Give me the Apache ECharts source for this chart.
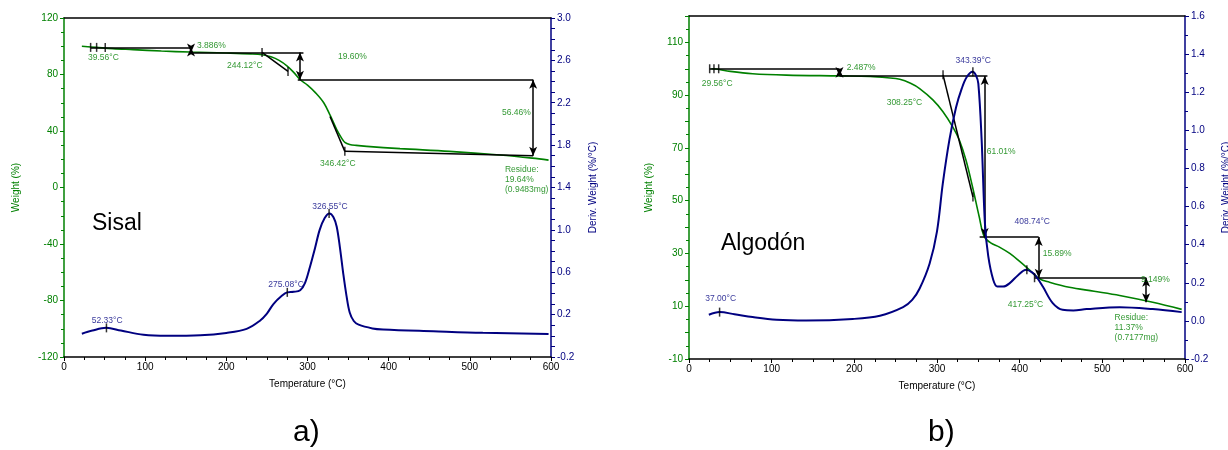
<!DOCTYPE html>
<html><head><meta charset="utf-8">
<script src="https://cdn.jsdelivr.net/npm/echarts@6/dist/echarts.min.js"></script>
<style>html,body{margin:0;padding:0;background:#fff}#c{width:1228px;height:450px}</style>
</head><body><div id="c"></div>
<script>
// ---------- Sisal (panel a) ----------
const sisalTgaTemp   = [22,40,60,85,120,155,200,230,244,255,265,275,283,291,300,310,320,328,336,342,346,352,360,373,414,475,537,577,597];
const sisalTgaWeight = [100,99.2,98.3,97.6,96.6,95.9,95.2,94.6,94,92.5,90,86,81.5,76.3,72.5,67,60,51,41,35,32,30.5,29.8,29.1,27.5,25.6,23,20.8,19.4];
const sisalDtgTemp   = [22,35,52,70,98,127,168,200,225,241,250,258,268,275,283,291,297,303,309,315,321,327,332,336,340,344,348,352,357,363,380,393,455,516,597];
const sisalDtgDeriv  = [0.02,0.05,0.075,0.05,0.01,0.0,0.005,0.027,0.065,0.14,0.21,0.3,0.375,0.41,0.415,0.43,0.5,0.65,0.82,1.0,1.11,1.155,1.12,1.03,0.83,0.59,0.38,0.22,0.14,0.105,0.07,0.06,0.043,0.028,0.018];
const sisalStepLines = [[[32.8,99.2],[156.5,99.2]],[[156.5,95.6],[295,95.6]],[[244,95.6],[276,82.2]],[[288,76.3],[578,76.3]],[[327.7,50.3],[346,25.6]],[[346,25.6],[578,22.5]]];
const sisalArrows    = [[[156.5,99.2],[156.5,95.6]],[[290.7,95.6],[290.7,76.3]],[[578,76.3],[578,22.5]]];
const sisalTicks     = [[32.8,99.2],[40.2,99.2],[50.8,99.2],[244,95.6],[276,82.2],[346,25.6]];
const sisalDtgTicks  = [[52.3,0.075],[275.1,0.41],[326.6,1.155]];
const sisalWLabels   = [["39.56°C",29.6,91.9],["3.886%",163.9,100.4],["244.12°C",200.8,86.2],["19.60%",337.6,92.6],["56.46%",539.6,53],["346.42°C",315.4,16.8],["Residue:\n19.64%\n(0.9483mg)",543.3,5.6]];
const sisalDLabels   = [["52.33°C",53.2,0.143],["275.08°C",273.6,0.483],["326.55°C",327.7,1.223]];

// ---------- Algodón (panel b) ----------
const algTgaTemp   = [27,33,50,77,118,182,219,240,255,268,279,295,307,319,327,335,343,351,357,365,375,388,400,410,424,436,460,490,521,561,596];
const algTgaWeight = [100,99.9,99,98.1,97.6,97.3,97.1,96.6,96,94.5,92.5,88.2,83.8,78,73,65.4,55.2,44,36.5,34,32.5,30,27,24.3,20.4,19.1,17.2,15.7,14.1,11.5,8.8];
const algDtgTemp   = [24,37,55,77,106,142,198,231,259,270,279,291,300,307,315,323,330,336,343,347,350,354,358,362,368,373,380,388,398,408,415,420,428,440,452,465,481,521,561,596];
const algDtgDeriv  = [0.032,0.046,0.035,0.02,0.006,0.002,0.01,0.027,0.072,0.11,0.17,0.3,0.47,0.72,0.95,1.12,1.22,1.28,1.307,1.29,1.245,0.95,0.51,0.34,0.216,0.18,0.18,0.198,0.24,0.268,0.255,0.233,0.18,0.093,0.058,0.055,0.062,0.072,0.062,0.046];
const algStepLines = [[[25,100],[182,100]],[[182,97.3],[361,97.3]],[[307.3,97.7],[343.5,51.4]],[[351.6,36.2],[423,36.2]],[[418,20.8],[553,20.8]]];
const algArrows    = [[[182,100],[182,97.3]],[[357.7,97.3],[357.7,36.2]],[[423,36.2],[423,20.8]],[[553,20.8],[553,11.5]]];
const algTicks     = [[25,100],[30.2,100],[35.9,100],[307.3,97.7],[343.5,51.4],[418,20.8]];
const algDtgTicks  = [[37,0.046],[343.4,1.307],[408.7,0.268]];
const algWLabels   = [["29.56°C",15.4,94.3],["2.487%",190.8,100.4],["308.25°C",239.1,87.1],["61.01%",360.1,68.4],["15.89%",427.8,30],["417.25°C",385.5,10.6],["9.149%",546.7,20.0],["Residue:\n11.37%\n(0.7177mg)",514.8,1.9]];
const algDLabels   = [["37.00°C",38.3,0.117],["343.39°C",343.8,1.368],["408.74°C",415.2,0.519]];

const GREEN = '#008000', NAVY = '#000080', FONT = 'Liberation Sans, Arial, sans-serif';

function zip(a,b){ return a.map((v,i)=>[v,b[i]]); }

function xAxes(grid){
  return [
    {gridIndex:grid,type:'value',min:0,max:600,interval:100,position:'bottom',
     axisLine:{onZero:false,lineStyle:{color:'#000',width:1.5}},
     axisTick:{show:true,length:4,lineStyle:{color:'#000'}},
     minorTick:{show:true,splitNumber:4,length:3,lineStyle:{color:'#000'}},
     axisLabel:{color:'#000',fontSize:10,fontFamily:FONT,margin:5},
     splitLine:{show:false},
     name:'Temperature (°C)',nameLocation:'middle',nameGap:22,
     nameTextStyle:{color:'#000',fontSize:10,fontFamily:FONT}},
    {gridIndex:grid,type:'value',min:0,max:600,position:'top',
     axisLine:{onZero:false,lineStyle:{color:'#000',width:1.5}},axisTick:{show:false},axisLabel:{show:false},splitLine:{show:false}}
  ];
}

function yAxis(grid,pos,color,name,gap,opts){
  return Object.assign({gridIndex:grid,type:'value',position:pos,
    axisLine:{show:true,onZero:false,lineStyle:{color:color,width:1.5}},
    axisTick:{show:true,length:4,lineStyle:{color:color}},
    axisLabel:{color:color,fontSize:10,fontFamily:FONT,margin:6,interval:0},
    splitLine:{show:false},
    name:name,nameLocation:'middle',nameGap:gap,nameRotate:90,
    nameTextStyle:{color:color,fontSize:10,fontFamily:FONT}},opts);
}

function stepSeries(xi,yi,lines,arrows){
  const data = lines.map(l=>[{coord:l[0],symbol:'none'},{coord:l[1],symbol:'none'}])
    .concat(arrows.map(a=>[{coord:a[0],symbol:'arrow'},{coord:a[1],symbol:'arrow'}]));
  return {type:'line',xAxisIndex:xi,yAxisIndex:yi,data:[],silent:true,z:4,
    markLine:{silent:true,animation:false,symbolSize:[6,9],label:{show:false},
      lineStyle:{color:'#000',width:1.5,type:'solid'},emphasis:{disabled:true},data:data}};
}
function tickSeries(xi,yi,pts){
  return {type:'scatter',xAxisIndex:xi,yAxisIndex:yi,data:pts,symbol:'rect',symbolSize:[1.5,9],
    itemStyle:{color:'#000'},silent:true,z:6};
}
function labelSeries(xi,yi,labels,color,align){
  return {type:'scatter',xAxisIndex:xi,yAxisIndex:yi,symbolSize:0,silent:true,z:7,
    data:labels.map(l=>({value:[l[1],l[2]],name:l[0]})),
    label:{show:true,position:[0,0],align:align,verticalAlign:'middle',formatter:p=>p.name,
      color:color,fontSize:8.5,fontFamily:FONT,lineHeight:10}};
}
function curve(xi,yi,t,v,color,width,z){
  return {type:'line',xAxisIndex:xi,yAxisIndex:yi,data:zip(t,v),smooth:0.35,
    showSymbol:false,silent:true,lineStyle:{color:color,width:width},z:z};
}

const option = {
  animation:false,
  backgroundColor:'#fff',
  grid:[{left:64,right:677,top:18,bottom:93,outerBoundsMode:'none',containLabel:false},
        {left:689,right:43,top:16,bottom:91,outerBoundsMode:'none',containLabel:false}],
  xAxis:[...xAxes(0),...xAxes(1)],
  yAxis:[
    yAxis(0,'left',GREEN,'Weight (%)',43,{min:-120,max:120,interval:40,
      minorTick:{show:true,splitNumber:4,length:3,lineStyle:{color:GREEN}}}),
    yAxis(0,'right',NAVY,'Deriv. Weight (%/°C)',37,{min:-0.2,max:3.0,interval:0.1,
      axisLabel:{color:NAVY,fontSize:10,fontFamily:FONT,margin:6,interval:0,
        formatter:v=>{const k=Math.round((v+0.2)*10);return k%4===0?v.toFixed(1):'';}}}),
    yAxis(1,'left',GREEN,'Weight (%)',35,{min:-10,max:120,interval:10,
      minorTick:{show:true,splitNumber:2,length:3,lineStyle:{color:GREEN}},
      axisLabel:{color:GREEN,fontSize:10,fontFamily:FONT,margin:6,interval:0,
        formatter:v=>{const r=Math.round(v);return (r+10)%20===0?String(r):'';}}}),
    yAxis(1,'right',NAVY,'Deriv. Weight (%/°C)',36,{min:-0.2,max:1.6,interval:0.2,
      minorTick:{show:true,splitNumber:2,length:3,lineStyle:{color:NAVY}},
      axisLabel:{color:NAVY,fontSize:10,fontFamily:FONT,margin:6,interval:0,formatter:v=>v.toFixed(1)}})
  ],
  series:[
    curve(0,0,sisalTgaTemp,sisalTgaWeight,GREEN,1.6,3),
    curve(0,1,sisalDtgTemp,sisalDtgDeriv,NAVY,2,3),
    stepSeries(0,0,sisalStepLines,sisalArrows),
    tickSeries(0,0,sisalTicks),
    tickSeries(0,1,sisalDtgTicks),
    labelSeries(0,0,sisalWLabels,GREEN,'left'),
    labelSeries(0,1,sisalDLabels,NAVY,'center'),

    curve(2,2,algTgaTemp,algTgaWeight,GREEN,1.6,3),
    curve(2,3,algDtgTemp,algDtgDeriv,NAVY,2,5),
    stepSeries(2,2,algStepLines,algArrows),
    tickSeries(2,2,algTicks),
    tickSeries(2,3,algDtgTicks),
    labelSeries(2,2,algWLabels,GREEN,'left'),
    labelSeries(2,3,algDLabels,NAVY,'center')
  ],
  graphic:[
    {type:'text',left:92,top:212,style:{text:'Sisal',fontSize:23,fontFamily:FONT,fill:'#000'}},
    {type:'text',left:721,top:232,style:{text:'Algodón',fontSize:23,fontFamily:FONT,fill:'#000'}},
    {type:'text',left:293,top:418,style:{text:'a)',fontSize:30,fontFamily:FONT,fill:'#000'}},
    {type:'text',left:928,top:418,style:{text:'b)',fontSize:30,fontFamily:FONT,fill:'#000'}}
  ]
};
const chart = echarts.init(document.getElementById('c'),null,{renderer:'canvas'});
chart.setOption(option);
</script>
</body></html>
